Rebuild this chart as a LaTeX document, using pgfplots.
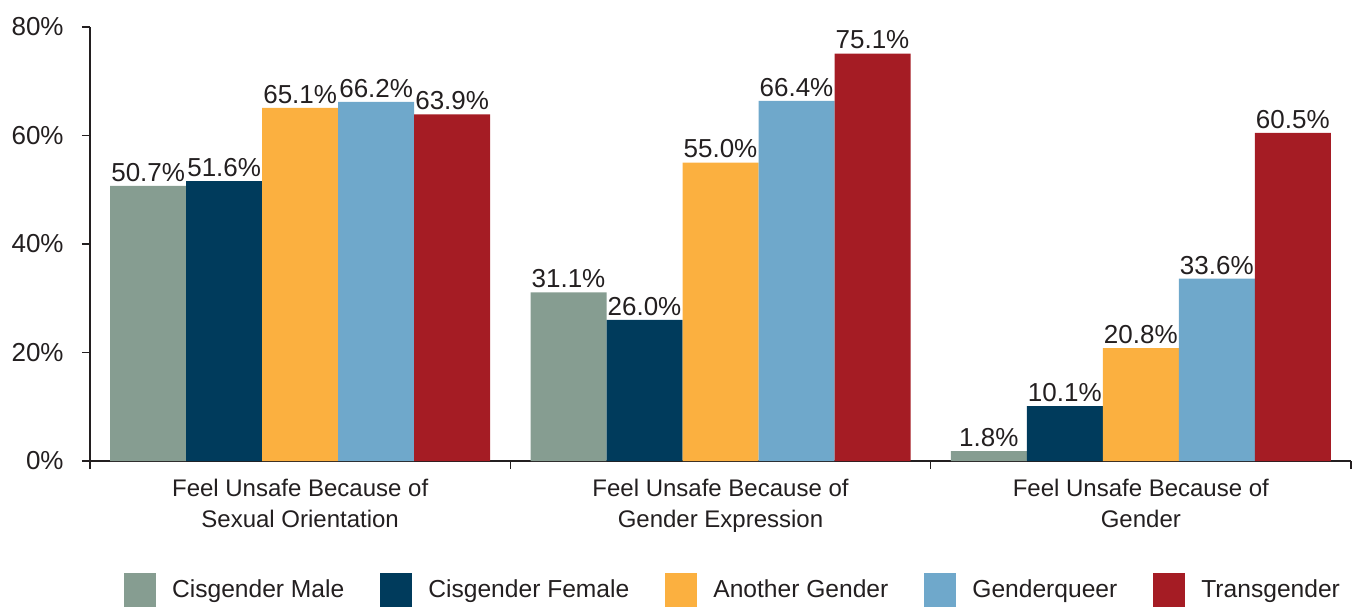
\documentclass[border=0pt]{standalone}
\usepackage{pgfplots}
\pgfplotsset{compat=1.18}
\usepackage{fontspec}
\setmainfont{Liberation Sans}
\definecolor{cmale}{HTML}{869D91}
\definecolor{cfemale}{HTML}{003B5C}
\definecolor{another}{HTML}{FBB040}
\definecolor{gq}{HTML}{6FA8CB}
\definecolor{trans}{HTML}{A51C24}
\definecolor{txt}{HTML}{231F20}
\begin{document}
\fontsize{12pt}{14.4pt}\selectfont
\begin{tikzpicture}
\path[use as bounding box] (-45pt,-73pt) rectangle (637pt,230.5pt);
\begin{axis}[
  at={(0pt,0pt)}, anchor=south west,
  scale only axis, width=630.5pt, height=217pt,
  xmin=-0.5, xmax=2.5, ymin=0, ymax=80,
  axis lines*=left,
  axis line style={txt, line width=0.8pt},
  ybar=0pt, bar width=38pt,
  clip=false,
  tick align=outside, major tick length=4pt,
  tick style={txt, line width=0.8pt},
  ytick={0,20,40,60,80},
  yticklabel={\pgfmathprintnumber[assume math mode=true]{\tick}\%},
  yticklabel style={font=\fontsize{13pt}{15pt}\selectfont, text=txt, xshift=-5pt},
  xtick={-0.5,0.5,1.5,2.5}, xticklabels={},
  extra x ticks={0,1,2},
  extra x tick labels={{Feel Unsafe Because of\\Sexual Orientation},{Feel Unsafe Because of\\Gender Expression},{Feel Unsafe Because of\\Gender}},
  extra x tick style={major tick length=0pt, xticklabel style={align=center, text=txt, yshift=-5pt, font=\fontsize{12pt}{15.5pt}\selectfont}},
  nodes near coords={\pgfmathprintnumber[fixed,fixed zerofill,precision=1,assume math mode=true]{\pgfplotspointmeta}\%},
  every node near coord/.append style={font=\fontsize{13pt}{15pt}\selectfont, text=txt, inner sep=2pt},
  legend columns=5,
  legend style={draw=none, fill=none, at={(axis description cs:0.5115,0)}, anchor=center, yshift=-64.5pt,
    /tikz/every even column/.append style={column sep=15pt},
    /tikz/every odd column/.append style={column sep=5pt},
    nodes={text=txt, inner sep=3pt}, font=\fontsize{12.3pt}{14.4pt}\selectfont},
  legend image code/.code={\draw[#1,draw=none] (0pt,-8.5pt) rectangle (16pt,8.5pt);},
]
\addplot[fill=cmale, draw=none] coordinates {(0,50.7) (1,31.1) (2,1.8)};
\addplot[fill=cfemale, draw=none] coordinates {(0,51.6) (1,26.0) (2,10.1)};
\addplot[fill=another, draw=none] coordinates {(0,65.1) (1,55.0) (2,20.8)};
\addplot[fill=gq, draw=none] coordinates {(0,66.2) (1,66.4) (2,33.6)};
\addplot[fill=trans, draw=none] coordinates {(0,63.9) (1,75.1) (2,60.5)};
\legend{Cisgender Male, Cisgender Female, Another Gender, Genderqueer, Transgender}
\end{axis}
\end{tikzpicture}
\end{document}
